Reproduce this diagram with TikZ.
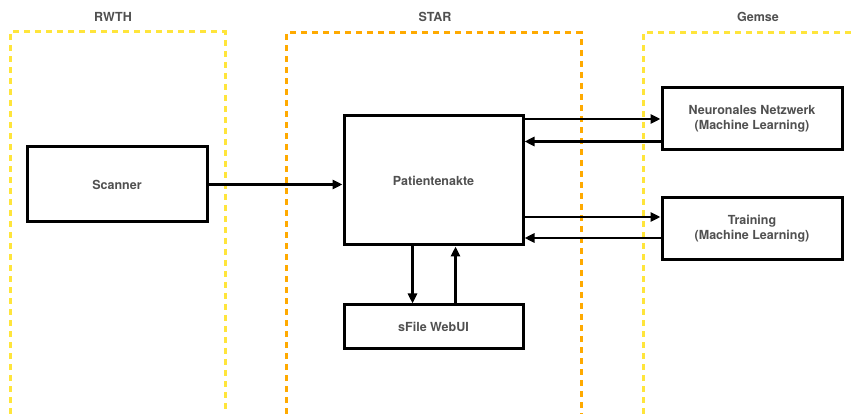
\documentclass[tikz,border=0pt]{standalone}
\usepackage{fontspec}
\setmainfont{TeX Gyre Heros}
\usepackage{tikz}
\usetikzlibrary{arrows.meta}
\usepackage{xcolor}
\definecolor{zoneyellow}{HTML}{FFE53B}
\definecolor{zoneorange}{HTML}{FFAA00}
\definecolor{labelgrey}{HTML}{505050}

\begin{document}
\begin{tikzpicture}[x=1pt, y=-1pt,
  txt/.style={text=labelgrey, font=\bfseries\fontsize{12.5}{15}\selectfont, align=center},
  block/.style={txt, draw, line width=3pt, minimum width=180pt},
  zone/.style={line width=3pt, dash pattern=on 6pt off 5pt},
  conn/.style={line width=2.8pt, -{Triangle[length=10pt,width=9pt]}}]
\useasboundingbox (0,0) rectangle (852,414);

\draw[zone, zoneyellow] (10,414) -- (10,32) -- (225,32) -- (225,414);
\draw[zone, zoneorange] (286,414) -- (286,33) -- (581,33) -- (581,414);
\draw[zone, zoneyellow] (643,414) -- (643,33) -- (856,33);

\foreach \x/\name in {113/RWTH, 435/STAR, 758/Gemse}
    \node[txt] (t-\name) at (\x,17) {\name};

\node[block, minimum height=75pt] (scan) at (117,184.5) {Scanner};
\node[block, minimum height=129pt, minimum width=179pt] (akte) at (433.5,180.5) {Patientenakte};
\node[block, minimum height=43pt, minimum width=179pt] (sfile) at (433.5,326.5) {sFile WebUI};
\node[block, minimum height=62pt] (netz) at (752,119) {Neuronales Netzwerk\\(Machine Learning)};
\node[block, minimum height=62pt] (train) at (752,229) {Training\\(Machine Learning)};

\draw[conn] (scan.east) -- (scan.east -| akte.west);
\draw[conn] (netz.west -| akte.east) -- (netz.west);
\draw[conn] ([yshift=10pt]netz.south west) -- ([yshift=10pt]netz.south west -| akte.east);
\draw[conn] ([yshift=12pt]train.west -| akte.east) -- ([yshift=12pt]train.west);
\draw[conn] ([yshift=-9pt]train.west) -- ([yshift=-9pt]train.west -| akte.east);
\draw[conn] ([xshift=-21pt]akte.south) -- ([xshift=-21pt]sfile.north);
\draw[conn] ([xshift=22pt]sfile.north) -- ([xshift=22pt]akte.south);
%
\end{tikzpicture}
\end{document}
